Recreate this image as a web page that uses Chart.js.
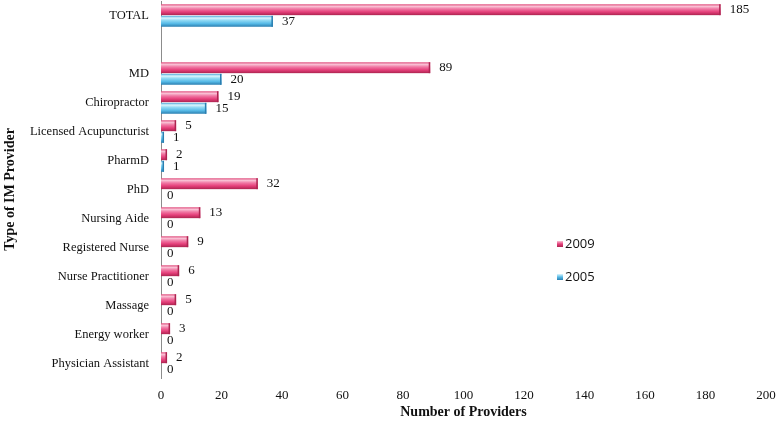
<!DOCTYPE html>
<html>
<head>
<meta charset="utf-8">
<script src="https://cdn.jsdelivr.net/npm/chart.js@4/dist/chart.umd.min.js"></script>
<style>
  body { margin: 0; background: #fff; }
  #wrap { position: relative; width: 777px; height: 421px; }
</style>
</head>
<body>
<div id="wrap"><canvas id="chart" width="777" height="421"></canvas></div>
<script>
// Provider types (blank row separates TOTAL from the rest)
const categories = ['TOTAL', '', 'MD', 'Chiropractor', 'Licensed Acupuncturist', 'PharmD', 'PhD',
    'Nursing Aide', 'Registered Nurse', 'Nurse Practitioner', 'Massage', 'Energy worker', 'Physician Assistant'];
const seriesNames = ['2009', '2005'];
const values2009 = [185, null, 89, 19, 5, 2, 32, 13, 9, 6, 5, 3, 2];
const values2005 = [37, null, 20, 15, 1, 1, 0, 0, 0, 0, 0, 0, 0];
const xTicks = [0, 20, 40, 60, 80, 100, 120, 140, 160, 180, 200];

const serif = "'Liberation Serif', 'DejaVu Serif', serif";

// gloss colours per series: [top edge, highlight, light mid, mid, shadow]
const shades = [
    ['#e0507f', '#f9c0d4', '#f07aa5', '#e6407b', '#ad2450'],
    ['#4aa8d8', '#dcf6fe', '#90d9f4', '#58bbe7', '#2a7fb1']
];

// Draw bars with a glossy look, then value labels
const glossPlugin = {
    id: 'gloss',
    afterDatasetsDraw(chart) {
        const ctx = chart.ctx;
        ctx.save();
        chart.data.datasets.forEach((ds, di) => {
            const meta = chart.getDatasetMeta(di);
            const s = shades[di];
            meta.data.forEach((el, i) => {
                const v = ds.data[i];
                if (v === null) return;
                const top = el.y - el.height / 2;
                const bottom = el.y + el.height / 2;
                const left = Math.min(el.base, el.x);
                const w = Math.abs(el.x - el.base);
                if (w > 0) {
                    const g = ctx.createLinearGradient(0, top, 0, bottom);
                    g.addColorStop(0, s[0]);
                    g.addColorStop(0.2, s[1]);
                    g.addColorStop(0.42, s[2]);
                    g.addColorStop(0.7, s[3]);
                    g.addColorStop(1, s[4]);
                    ctx.fillStyle = g;
                    ctx.fillRect(left, top, w, bottom - top);
                    ctx.fillStyle = s[4];
                    ctx.fillRect(left + w - 1.5, top, 1.5, bottom - top);
                }
                ctx.fillStyle = '#111';
                ctx.font = '13px ' + serif;
                ctx.textAlign = 'left';
                ctx.textBaseline = 'middle';
                ctx.fillText(String(v), el.x + (v === 0 ? 6 : 9), el.y);
            });
        });

        // legend inside the plot
        ctx.font = "13px 'Open Sans', 'Liberation Sans', sans-serif";
        ctx.textBaseline = 'middle';
        const items = [[557, 244], [557, 277]];
        seriesNames.forEach((name, di) => {
            const [x, y] = items[di];
            const g = ctx.createLinearGradient(0, y - 3, 0, y + 3);
            g.addColorStop(0, shades[di][1]);
            g.addColorStop(0.5, shades[di][3]);
            g.addColorStop(1, shades[di][4]);
            ctx.fillStyle = g;
            ctx.fillRect(x, y - 3, 6, 6);
            ctx.fillStyle = '#111';
            ctx.fillText(name, x + 8, y);
        });
        ctx.restore();
    }
};

new Chart(document.getElementById('chart'), {
    type: 'bar',
    data: {
        labels: categories,
        datasets: [
            { label: seriesNames[0], data: values2009, backgroundColor: 'rgba(0,0,0,0)' },
            { label: seriesNames[1], data: values2005, backgroundColor: 'rgba(0,0,0,0)' }
        ]
    },
    options: {
        indexAxis: 'y',
        responsive: false,
        animation: false,
        categoryPercentage: 0.8,
        barPercentage: 0.94,
        layout: { padding: { top: 1, right: 11, left: 0, bottom: 0 } },
        scales: {
            x: {
                min: 0,
                max: 200,
                afterBuildTicks: scale => { scale.ticks = xTicks.map(v => ({ value: v })); },
                grid: { display: false, drawTicks: false },
                border: { display: false },
                ticks: { color: '#111', font: { family: serif, size: 13 }, padding: 10 },
                title: {
                    display: true,
                    text: 'Number of Providers',
                    color: '#111',
                    font: { family: serif, size: 14, weight: 'bold' },
                    padding: { top: 1, bottom: 0 }
                },
                afterFit: scale => {
                    scale.height = 43;
                    scale.paddingRight = 0;
                    scale.paddingLeft = 0;
                }
            },
            y: {
                grid: { display: false, drawTicks: false },
                border: { display: true, color: '#8c8c8c', width: 1 },
                ticks: { color: '#111', font: { family: serif, size: 12.5 }, padding: 12, autoSkip: false },
                title: {
                    display: true,
                    text: 'Type of IM Provider',
                    color: '#111',
                    font: { family: serif, size: 14, weight: 'bold' },
                    padding: { top: 2, bottom: 0 }
                },
                afterFit: scale => {
                    scale.width = 161;
                    scale.paddingTop = 0;
                    scale.paddingBottom = 0;
                }
            }
        },
        plugins: {
            legend: { display: false },
            tooltip: { enabled: false }
        }
    },
    plugins: [glossPlugin]
});
</script>
</body>
</html>
